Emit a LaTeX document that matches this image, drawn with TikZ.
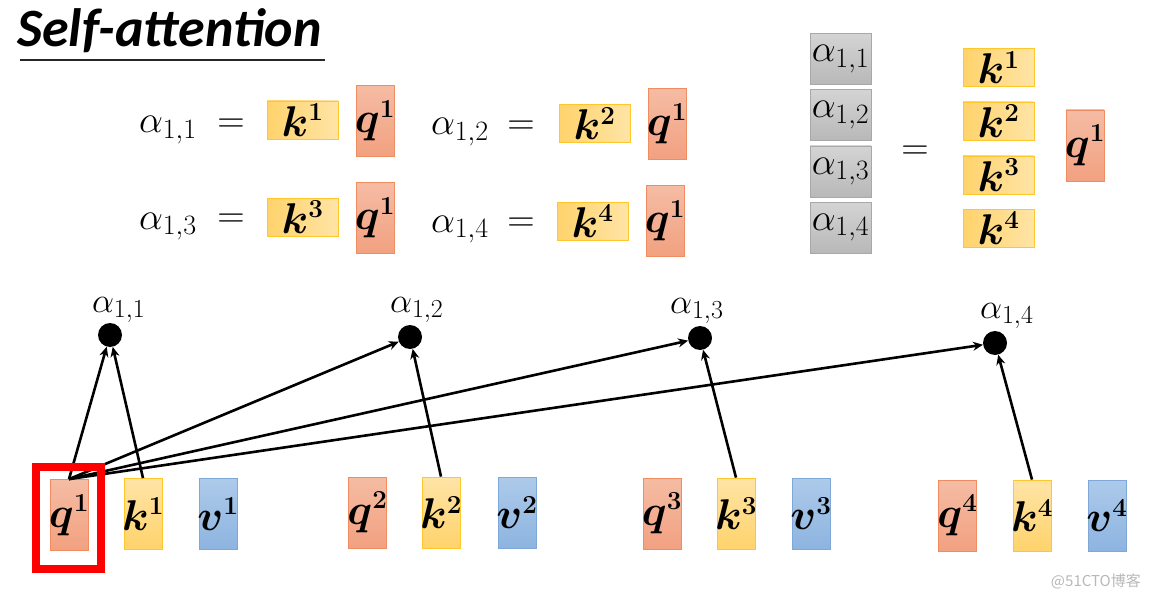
\RequirePackage{fix-cm}
\documentclass[tikz,border=0pt]{standalone}
\usepackage{fontspec}
\usepackage{amsmath}
\usepackage{bm}
\usetikzlibrary{arrows.meta}
\newfontfamily\titlefont{Carlito}
\newfontfamily\cjk{Noto Sans CJK SC}
\DeclareMathSizes{38}{38}{28}{20}
\DeclareMathSizes{43}{43}{26}{18}
\DeclareMathSizes{35}{35}{26}{18}
\definecolor{qtop}{HTML}{F5BCA4}
\definecolor{qbot}{HTML}{F2A180}
\definecolor{qdraw}{HTML}{F08C62}
\definecolor{kleft}{HTML}{FFD36C}
\definecolor{kright}{HTML}{FFE4A6}
\definecolor{kdraw}{HTML}{FFC72C}
\definecolor{vtop}{HTML}{ADCAEA}
\definecolor{vbot}{HTML}{8DB4E0}
\definecolor{vdraw}{HTML}{7FA8D8}
\definecolor{gtop}{HTML}{D4D4D4}
\definecolor{gbot}{HTML}{B8B8B8}
\definecolor{gdraw}{HTML}{A8A8A8}
\tikzset{
  box/.style={inner sep=0pt, line width=0.8pt},
  qbox/.style={box, draw=qdraw, top color=qtop, bottom color=qbot, minimum width=38pt, minimum height=71pt},
  kvbox/.style={box, draw=kdraw, top color=kright, bottom color=kleft, minimum width=38pt, minimum height=71pt},
  vbox/.style={box, draw=vdraw, top color=vtop, bottom color=vbot, minimum width=38pt, minimum height=71pt},
  khbox/.style={box, draw=kdraw, left color=kleft, right color=kright, minimum width=71pt, minimum height=38pt},
  gbox/.style={box, draw=gdraw, top color=gtop, bottom color=gbot, minimum width=61pt, minimum height=51pt},
  lab/.style={inner sep=0pt, font=\fontsize{43}{48}\selectfont},
  glab/.style={inner sep=0pt, font=\fontsize{38}{42}\selectfont},
  eq/.style={inner sep=0pt, font=\fontsize{38}{42}\selectfont},
  alab/.style={inner sep=0pt, anchor=base west, font=\fontsize{35}{40}\selectfont},
  dot/.style={circle, fill=black, minimum size=24pt, inner sep=0pt},
  arr/.style={line width=2.6pt, -{Stealth[length=10pt,width=9pt]}},
}
\newcommand{\bx}[4]{\node[#1] (#2) at (#3) {}; \node[lab] (#2t) at (#2) {$#4$};}
\newcommand{\gx}[3]{\node[gbox] (#1) at (#2) {}; \node[glab] (#1t) at (#1) {$#3$};}
\begin{document}
\begin{tikzpicture}[x=1pt,y=-1pt]
\useasboundingbox (0,0) rectangle (1149,599);
% title
\node[inner sep=0pt, anchor=base west, font=\titlefont\bfseries\itshape\fontsize{54}{60}\selectfont] (title) at (17,47) {Self-attention};
\coordinate (ul1) at (20,60);
\coordinate (ul2) at (325,60);
\draw[line width=1.5pt, black!85] (ul1) -- (ul2);

% equations
\node[eq, anchor=base west] (ea11) at (139,133) {$\alpha_{1,1}$};
\node[eq] (eeq1) at (231,126) {$=$};
\bx{khbox}{ek1}{302.5,120}{\bm{k}^{\bm{1}}}
\bx{qbox}{eq1a}{375,121}{\bm{q}^{\bm{1}}}
\node[eq, anchor=base west] (ea12) at (431,135) {$\alpha_{1,2}$};
\node[eq] (eeq2) at (521,128) {$=$};
\bx{khbox}{ek2}{594.5,123.5}{\bm{k}^{\bm{2}}}
\bx{qbox}{eq1b}{667,124}{\bm{q}^{\bm{1}}}

\node[eq, anchor=base west] (ea13) at (139,229) {$\alpha_{1,3}$};
\node[eq] (eeq3) at (231,221) {$=$};
\bx{khbox}{ek3}{302.5,217}{\bm{k}^{\bm{3}}}
\bx{qbox}{eq1c}{375,218}{\bm{q}^{\bm{1}}}
\node[eq, anchor=base west] (ea14) at (431,232) {$\alpha_{1,4}$};
\node[eq] (eeq4) at (521,225) {$=$};
\bx{khbox}{ek4}{592.5,221}{\bm{k}^{\bm{4}}}
\bx{qbox}{eq1d}{665,221}{\bm{q}^{\bm{1}}}

% matrix form
\gx{ma1}{840.5,59}{\alpha_{1,1}}
\gx{ma2}{840.5,115}{\alpha_{1,2}}
\gx{ma3}{840.5,171.5}{\alpha_{1,3}}
\gx{ma4}{840.5,227.5}{\alpha_{1,4}}
\node[eq] (meq) at (915,153) {$=$};
\bx{khbox}{mk1}{998.5,67.5}{\bm{k}^{\bm{1}}}
\bx{khbox}{mk2}{998.5,121}{\bm{k}^{\bm{2}}}
\bx{khbox}{mk3}{998.5,175}{\bm{k}^{\bm{3}}}
\bx{khbox}{mk4}{998.5,228}{\bm{k}^{\bm{4}}}
\bx{qbox}{mq1}{1085,145.5}{\bm{q}^{\bm{1}}}

% bottom vectors
\bx{qbox}{bq1}{69,515}{\bm{q}^{\bm{1}}}
\bx{kvbox}{bk1}{143,514}{\bm{k}^{\bm{1}}}
\bx{vbox}{bv1}{218,514}{\bm{v}^{\bm{1}}}
\bx{qbox}{bq2}{367.5,512.5}{\bm{q}^{\bm{2}}}
\bx{kvbox}{bk2}{441,512.5}{\bm{k}^{\bm{2}}}
\bx{vbox}{bv2}{517,512.5}{\bm{v}^{\bm{2}}}
\bx{qbox}{bq3}{662,513.5}{\bm{q}^{\bm{3}}}
\bx{kvbox}{bk3}{736,513.5}{\bm{k}^{\bm{3}}}
\bx{vbox}{bv3}{811,513.5}{\bm{v}^{\bm{3}}}
\bx{qbox}{bq4}{957.5,515.5}{\bm{q}^{\bm{4}}}
\bx{kvbox}{bk4}{1032,515.5}{\bm{k}^{\bm{4}}}
\bx{vbox}{bv4}{1107,515.5}{\bm{v}^{\bm{4}}}

% attention dots
\node[dot] (d1) at (110,335) {};
\node[dot] (d2) at (410,337) {};
\node[dot] (d3) at (700,338) {};
\node[dot] (d4) at (995,343) {};
\node[alab] (l1) at (92,312) {$\alpha_{1,1}$};
\node[alab] (l2) at (390,312) {$\alpha_{1,2}$};
\node[alab] (l3) at (670,313) {$\alpha_{1,3}$};
\node[alab] (l4) at (980,318) {$\alpha_{1,4}$};

% arrows
\draw[arr] (bq1.north) -- (d1);
\draw[arr] (bk1.north) -- (d1);
\draw[arr] (bq1.north) -- (d2);
\draw[arr] (bk2.north) -- (d2);
\draw[arr] (bq1.north) -- (d3);
\draw[arr] (bk3.north) -- (d3);
\draw[arr] (bq1.north) -- (d4);
\draw[arr] (bk4.north) -- (d4);

% highlight frame
\node[draw=red, line width=8pt, minimum width=65pt, minimum height=102pt, inner sep=0pt] (frame) at (68.5,518) {};

% watermark
\node[anchor=east, inner sep=0pt, text=black!28, font=\cjk\fontsize{15}{18}\selectfont] (wm) at (1141,581) {@51CTO博客};
\end{tikzpicture}
\end{document}
